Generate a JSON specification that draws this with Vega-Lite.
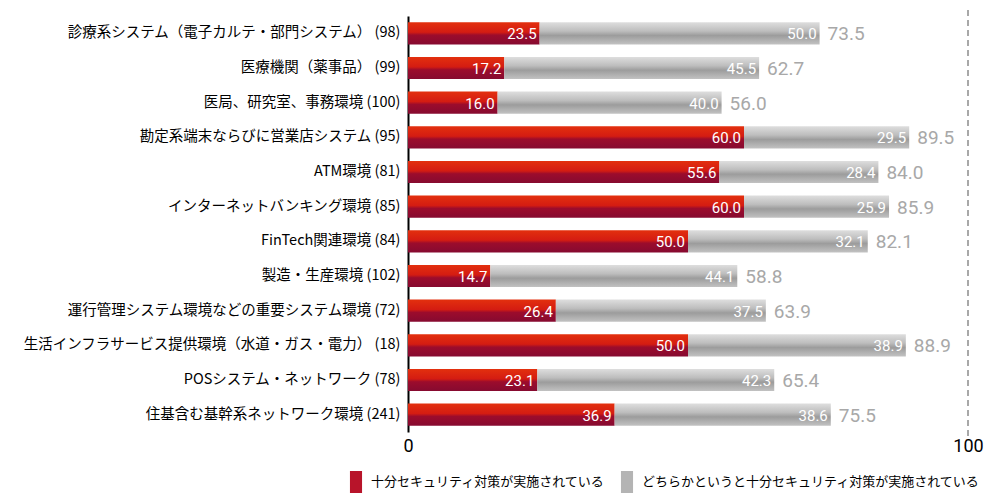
{
  "$schema": "https://vega.github.io/schema/vega-lite/v6.json",
  "autosize": {"type": "none"},
  "width": 560,
  "height": 416,
  "padding": {"left": 408, "top": 16, "right": 32, "bottom": 66},
  "background": "white",
  "config": {"view": {"stroke": null}, "font": "Noto Sans CJK JP"},
  "data": {"values": [
    {"cat": "診療系システム（電子カルテ・部門システム） (98)", "a": 23.5, "b": 50.0, "total": 73.5},
    {"cat": "医療機関（薬事品） (99)", "a": 17.2, "b": 45.5, "total": 62.7},
    {"cat": "医局、研究室、事務環境 (100)", "a": 16.0, "b": 40.0, "total": 56.0},
    {"cat": "勘定系端末ならびに営業店システム (95)", "a": 60.0, "b": 29.5, "total": 89.5},
    {"cat": "ATM環境 (81)", "a": 55.6, "b": 28.4, "total": 84.0},
    {"cat": "インターネットバンキング環境 (85)", "a": 60.0, "b": 25.9, "total": 85.9},
    {"cat": "FinTech関連環境 (84)", "a": 50.0, "b": 32.1, "total": 82.1},
    {"cat": "製造・生産環境 (102)", "a": 14.7, "b": 44.1, "total": 58.8},
    {"cat": "運行管理システム環境などの重要システム環境 (72)", "a": 26.4, "b": 37.5, "total": 63.9},
    {"cat": "生活インフラサービス提供環境（水道・ガス・電力） (18)", "a": 50.0, "b": 38.9, "total": 88.9},
    {"cat": "POSシステム・ネットワーク (78)", "a": 23.1, "b": 42.3, "total": 65.4},
    {"cat": "住基含む基幹系ネットワーク環境 (241)", "a": 36.9, "b": 38.6, "total": 75.5}
  ]},
  "encoding": {
    "y": {
      "field": "cat", "type": "nominal", "sort": null, "title": null,
      "scale": {"paddingInner": 0.36, "paddingOuter": 0.18},
      "axis": {"labelFontSize": 14.5, "labelColor": "#000", "labelPadding": 8, "ticks": false, "domainColor": "#000", "domainWidth": 2, "labelLimit": 400}
    }
  },
  "layer": [
    {
      "transform": [
        {"fold": ["a", "b"], "as": ["k", "v"]},
        {"calculate": "datum.k == 'a' ? '十分セキュリティ対策が実施されている' : 'どちらかというと十分セキュリティ対策が実施されている'", "as": "series"}
      ],
      "mark": {"type": "bar", "opacity": 0},
      "encoding": {
        "x": {"field": "v", "type": "quantitative", "stack": "zero", "scale": {"domain": [0, 100], "nice": false},
          "title": null,
          "axis": {"values": [0, 100], "grid": false, "domain": false, "ticks": false, "labelFlush": false, "labelFontSize": 18, "labelColor": "#000", "labelPadding": 5, "labelFont": "Roboto"}},
        "color": {
          "field": "series", "type": "nominal",
          "scale": {"domain": ["十分セキュリティ対策が実施されている", "どちらかというと十分セキュリティ対策が実施されている"], "range": ["#b8142a", "#b4b4b4"]},
          "legend": {"title": null, "orient": "none", "direction": "horizontal", "legendX": -63, "legendY": 455,
            "symbolType": "M-0.55,-1H0.55V1H-0.55Z", "symbolSize": 484, "symbolOpacity": 1, "symbolStrokeWidth": 0,
            "labelFontSize": 13, "labelColor": "#000", "labelOffset": 4, "columnPadding": 10, "labelLimit": 400}
        },
        "order": {"field": "k"}
      }
    },
    {
      "mark": {"type": "bar", "color": {"gradient": "linear", "x1": 0, "y1": 0, "x2": 0, "y2": 1,
        "stops": [{"offset": 0, "color": "#e3300e"}, {"offset": 0.45, "color": "#d41c12"}, {"offset": 0.58, "color": "#9c0c2c"}, {"offset": 1, "color": "#860a30"}]}},
      "encoding": {"x": {"field": "a", "type": "quantitative"}, "x2": {"datum": 0}}
    },
    {
      "mark": {"type": "bar", "color": {"gradient": "linear", "x1": 0, "y1": 0, "x2": 0, "y2": 1,
        "stops": [{"offset": 0, "color": "#dedede"}, {"offset": 0.4, "color": "#bdbdbd"}, {"offset": 0.6, "color": "#9c9c9c"}, {"offset": 1, "color": "#c2c2c2"}]}},
      "encoding": {"x": {"field": "a", "type": "quantitative"}, "x2": {"field": "total"}}
    },
    {
      "mark": {"type": "rule", "color": "#a8a8a8", "strokeDash": [6, 4], "strokeWidth": 1.5},
      "encoding": {"x": {"datum": 100}, "y": {"value": -6}, "y2": {"value": 424}}
    },
    {
      "mark": {"type": "text", "align": "right", "dx": -3, "dy": 1, "color": "white", "fontSize": 15, "font": "Roboto"},
      "encoding": {"x": {"field": "a", "type": "quantitative"}, "text": {"field": "a", "format": ".1f"}}
    },
    {
      "mark": {"type": "text", "align": "right", "dx": -3, "dy": 1, "color": "white", "fontSize": 15, "font": "Roboto"},
      "encoding": {"x": {"field": "total", "type": "quantitative"}, "text": {"field": "b", "format": ".1f"}}
    },
    {
      "mark": {"type": "text", "align": "left", "dx": 8, "dy": 1, "color": "#a8a8a8", "fontSize": 19, "font": "Roboto"},
      "encoding": {"x": {"field": "total", "type": "quantitative"}, "text": {"field": "total", "format": ".1f"}}
    }
  ]
}
